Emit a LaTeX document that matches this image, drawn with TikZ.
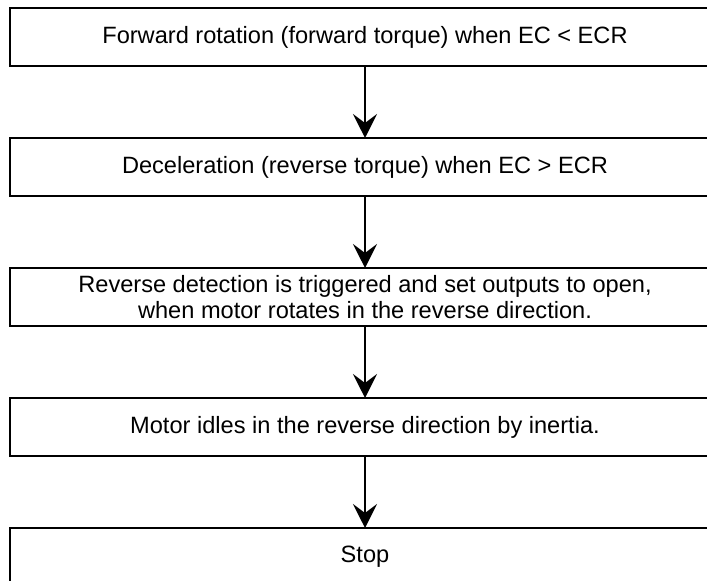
\documentclass[tikz,border=0pt]{standalone}
\usepackage{fontspec}
\setmainfont{Liberation Sans}
\usetikzlibrary{arrows.meta,positioning}

\begin{document}
\begin{tikzpicture}[>={Stealth[length=12pt,width=12pt,inset=4.5pt]}]
	\tikzset{block/.style={draw, shape=rectangle, line width=1.1pt, outer sep=0pt, inner sep=0pt, align=center, minimum width=355pt, minimum height=29pt, font=\fontsize{11.8}{13.25}\selectfont},
		flow/.style={->, line width=.85pt},
	}
	\path[use as bounding box, clip] (0,0) rectangle (353.5pt,-290.5pt);
	\node [block] (fwd) at (182.5pt,-18.5pt) {Forward rotation (forward torque) when EC < ECR};
	\node [block, below = 36pt of fwd] (decel) {Deceleration (reverse torque) when EC > ECR};
	\node [block, below = 36pt of decel] (revdet) {Reverse detection is triggered and set outputs to open,\\ when motor rotates in the reverse direction.};
	\node [block, below = 36pt of revdet] (idle) {Motor idles in the reverse direction by inertia.};
	\node [block, below = 36pt of idle] (stop) {Stop};
	\draw [flow] (fwd) -- (decel);
	\draw [flow] (decel) -- (revdet);
	\draw [flow] (revdet) -- (idle);
	\draw [flow] (idle) -- (stop);
\end{tikzpicture}
\end{document}
